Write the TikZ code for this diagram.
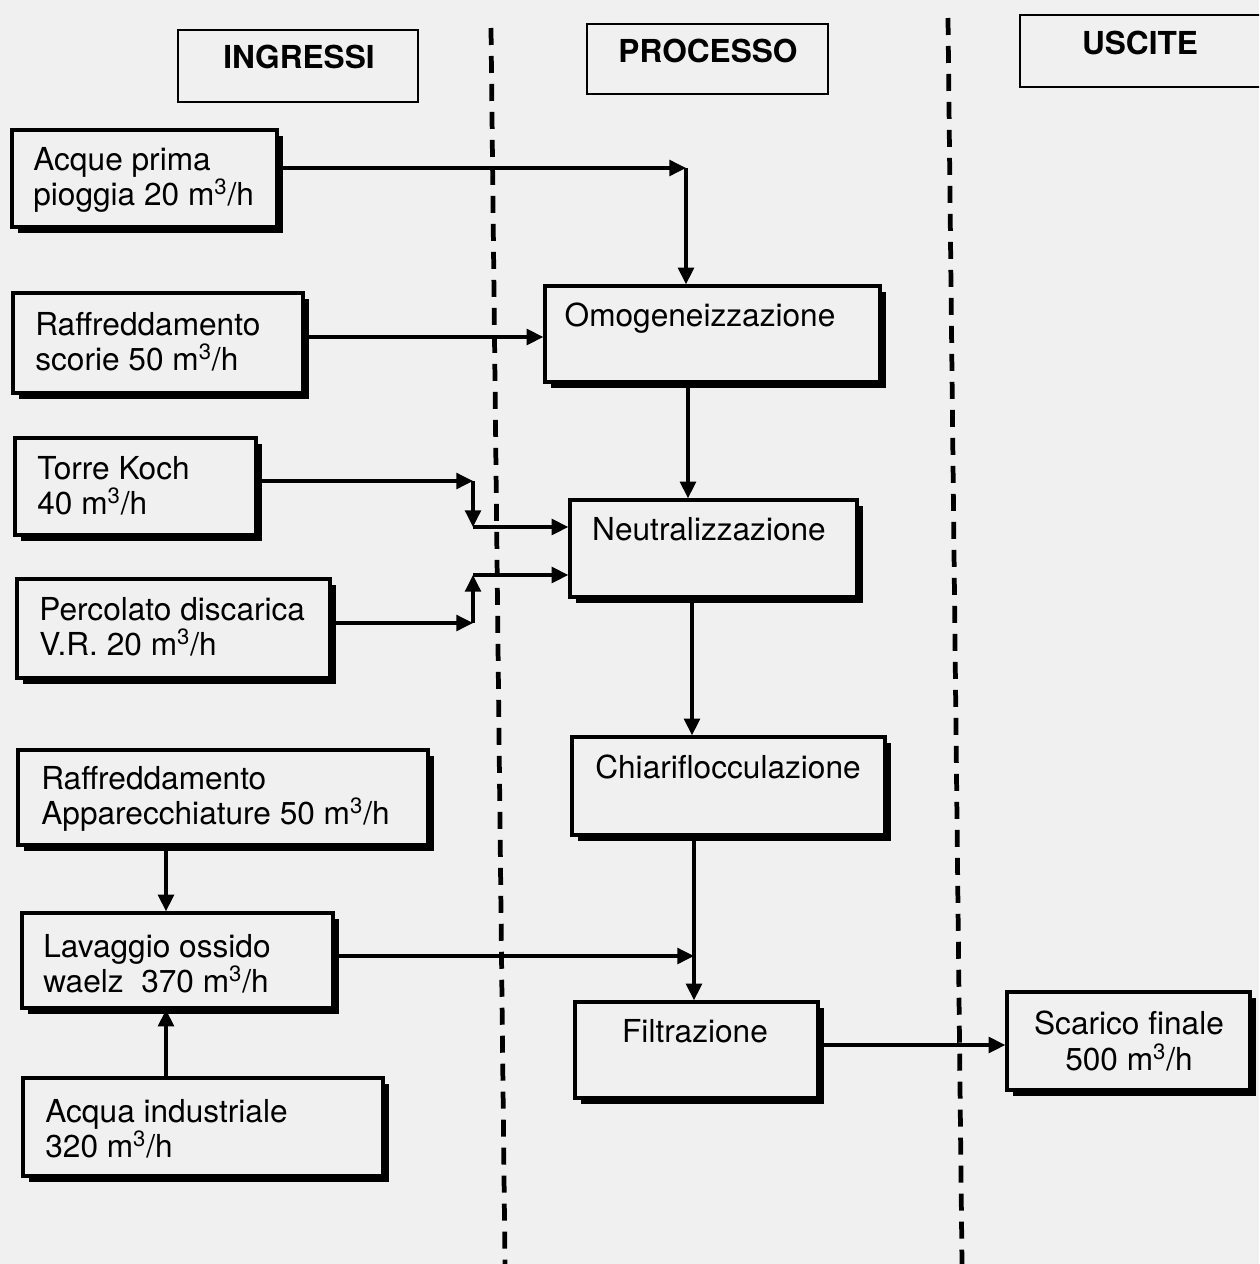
\documentclass[tikz,border=0pt]{standalone}
\usepackage{fontspec}
\setmainfont{TeX Gyre Heros}
\usetikzlibrary{arrows.meta,shadows,fit}
\definecolor{paper}{gray}{0.94}
\newcommand\mch{m\textsuperscript{3}/h}

\begin{document}
\begin{tikzpicture}[x=0.02cm,y=-0.02cm,
  flow/.style={draw, line width=1.9pt, fill=paper, inner sep=0pt,
    drop shadow={shadow xshift=0.12cm, shadow yshift=-0.12cm, fill=black, opacity=1}},
  head/.style={draw, line width=1.2pt, fill=paper, inner sep=0pt},
  txt/.style={font=\fontsize{18}{20}\selectfont, inner sep=0pt, align=left},
  ctr/.style={font=\fontsize{18}{20}\selectfont, inner sep=0pt, align=center},
  htxt/.style={font=\fontsize{18}{20}\selectfont\bfseries, inner sep=0pt},
  conn/.style={line width=1.8pt, -{Triangle[length=9.5pt,width=9pt]}},
  divider/.style={line width=2.7pt, dash pattern=on 0.34cm off 0.22cm}]

% page and background
\clip (0,0) rectangle (1259,1264);
\fill[paper] (0,0) rectangle (1259,1264);

% column separators
\draw[divider] (491,28) -- (505,1264);
\draw[divider] (948,18) -- (962,1264);

% column headers
\node[head, fit={(178,30) (418,102)}] (hin) {};
\node[htxt, anchor=base] (hinT) at (299,69) {INGRESSI};
\node[head, fit={(587,24) (828,94)}] (hpr) {};
\node[htxt, anchor=base] (hprT) at (708,63) {PROCESSO};
\node[head, fit={(1020,15) (1275,87)}] (hus) {};
\node[htxt, anchor=base] (husT) at (1140,55) {USCITE};

% inputs
\node[flow, fit={(12,130) (277,227)}] (acque) {};
\node[txt, anchor=north west] (acqueT) at (33,147) {Acque prima\\pioggia 20 \mch};
\node[flow, fit={(13,293) (303,393)}] (scorie) {};
\node[txt, anchor=north west] (scorieT) at (35,312) {Raffreddamento\\scorie 50 \mch};
\node[flow, fit={(15,438) (256,535)}] (torre) {};
\node[txt, anchor=north west] (torreT) at (37,456) {Torre Koch\\40 \mch};
\node[flow, fit={(17,579) (330,678)}] (perc) {};
\node[txt, anchor=north west] (percT) at (39,597) {Percolato discarica\\V.R. 20 \mch};
\node[flow, fit={(18,750) (428,845)}] (app) {};
\node[txt, anchor=north west] (appT) at (41,766) {Raffreddamento\\Apparecchiature 50 \mch};
\node[flow, fit={(22,913) (333,1008)}] (lav) {};
\node[txt, anchor=north west] (lavT) at (43,934) {Lavaggio ossido\\waelz\ \ 370 \mch};
\node[flow, fit={(23,1078) (383,1176)}] (acqua) {};
\node[txt, anchor=north west] (acquaT) at (45,1099) {Acqua industriale\\320 \mch};

% process steps
\node[flow, fit={(545,286) (880,382)}] (omo) {};
\node[ctr, anchor=base] (omoT) at (700,326) {Omogeneizzazione};
\node[flow, fit={(570,500) (857,597)}] (neu) {};
\node[ctr, anchor=base] (neuT) at (709,540) {Neutralizzazione};
\node[flow, fit={(572,737) (885,835)}] (chi) {};
\node[ctr, anchor=base] (chiT) at (728,778) {Chiariflocculazione};
\node[flow, fit={(575,1002) (818,1098)}] (fil) {};
\node[ctr, anchor=base] (filT) at (695,1042) {Filtrazione};

% output
\node[flow, fit={(1007,992) (1250,1090)}] (sca) {};
\node[ctr, anchor=north] (scaT) at (1129,1011) {Scarico finale\\500 \mch};

% junctions and guide lines
\coordinate (jA) at (686,168);
\coordinate (rB) at (0,337);
\coordinate (jT) at (473,481);
\coordinate (jT2) at (473,527);
\coordinate (jP) at (473,623);
\coordinate (jP2) at (473,575);
\coordinate (v1) at (688,0);
\coordinate (v2) at (692,0);
\coordinate (jF) at (694,956);
\coordinate (vL) at (166,0);
\coordinate (rS) at (0,1045);

% connectors
\draw[conn] (acque.east |- jA) -- (jA);
\draw[conn] (jA) -- (omo.north -| jA);
\draw[conn] (scorie.east |- rB) -- (omo.west |- rB);
\draw[conn] (torre.east |- jT) -- (jT);
\draw[conn] (jT) -- (jT2);
\draw[conn] (jT2) -- (neu.west |- jT2);
\draw[conn] (perc.east |- jP) -- (jP);
\draw[conn] (jP) -- (jP2);
\draw[conn] (jP2) -- (neu.west |- jP2);
\draw[conn] (omo.south -| v1) -- (neu.north -| v1);
\draw[conn] (neu.south -| v2) -- (chi.north -| v2);
\draw[conn] (chi.south -| jF) -- (fil.north -| jF);
\draw[conn] (lav.east |- jF) -- (jF);
\draw[conn] (app.south -| vL) -- (lav.north -| vL);
\draw[conn] (acqua.north -| vL) -- (lav.south -| vL);
\draw[conn] (fil.east |- rS) -- (sca.west |- rS);
\end{tikzpicture}
\end{document}
